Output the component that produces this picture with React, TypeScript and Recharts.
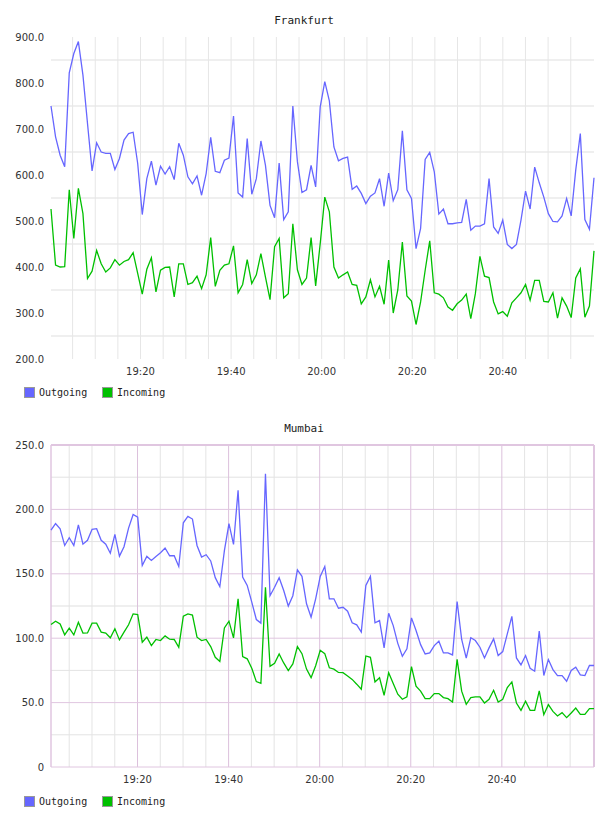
import { LineChart, Line, XAxis, YAxis, ReferenceLine } from 'recharts';

// one sample per minute
const frankfurtOutgoing = [
  750, 683, 643, 618, 822, 864, 890, 817, 712, 609,
  670, 650, 647, 647, 612, 636, 676, 690, 693, 625,
  514, 592, 630, 578, 619, 602, 618, 590, 669, 643,
  596, 581, 598, 556, 603, 682, 608, 605, 632, 637,
  728, 561, 552, 679, 558, 592, 674, 621, 534, 507,
  626, 503, 520, 750, 629, 562, 568, 621, 574, 748,
  803, 761, 661, 631, 636, 639, 569, 576, 560, 538,
  554, 561, 592, 532, 604, 544, 568, 696, 568, 549,
  440, 484, 634, 649, 607, 515, 526, 494, 494, 496,
  497, 547, 480, 489, 489, 494, 592, 487, 473, 502,
  449, 440, 449, 502, 565, 526, 617, 583, 552, 516,
  499, 498, 511, 549, 511, 611, 690, 503, 482, 594,
];

const frankfurtIncoming = [
  526, 404, 400, 401, 568, 462, 571, 516, 375, 391,
  436, 407, 389, 398, 416, 404, 412, 416, 431, 386,
  341, 395, 420, 346, 393, 399, 400, 335, 407, 407,
  362, 366, 380, 353, 383, 464, 358, 393, 404, 407,
  446, 344, 362, 416, 364, 383, 429, 378, 329, 444,
  462, 333, 342, 494, 394, 362, 376, 464, 359, 451,
  552, 520, 400, 376, 383, 389, 362, 360, 320, 335,
  372, 335, 358, 319, 415, 300, 350, 454, 337, 326,
  275, 324, 393, 457, 344, 341, 333, 313, 306, 320,
  328, 341, 288, 342, 423, 380, 377, 324, 298, 303,
  293, 322, 333, 344, 362, 328, 371, 371, 325, 324,
  344, 289, 333, 315, 290, 376, 396, 291, 315, 435,
];

const mumbaiOutgoing = [
  184, 189, 185, 172, 178, 172, 188, 173, 176, 184.5,
  185, 176, 173, 166, 180.6, 163.7, 171, 185.5, 196, 194,
  156.5, 163.5, 160.4, 163.5, 166.3, 170, 164, 164, 155.7, 189.6,
  194.6, 192.5, 172, 163, 164.8, 160, 147, 140, 168, 189,
  172.8, 214.8, 147.4, 141, 128, 114.5, 111.7, 227.7, 133, 139.6,
  146.9, 137, 125, 133, 153, 148, 126.7, 116.3, 130.6, 148,
  155.7, 130.6, 130.6, 123.3, 124, 121, 112, 110.4, 104.7, 141,
  148, 112, 113.7, 92.5, 119.4, 109.8, 96, 86, 91.7, 115.8,
  106, 95, 87.8, 88.6, 94.3, 97.7, 88.6, 88.6, 87, 128.5,
  99, 84.5, 100.3, 98.2, 93, 84.7, 92.5, 99.5, 86.5, 89.6,
  103.4, 117, 84.7, 79.3, 86.5, 76.7, 74.4, 105.5, 71, 83.4,
  75.6, 71, 71, 66.6, 75, 77.5, 71.5, 71, 78.8, 78.8,
];

const mumbaiIncoming = [
  110.6, 113.2, 111, 102.6, 107.8, 102.6, 112.4, 104, 104.1, 111.7,
  111.7, 104.7, 104, 100.3, 107.3, 98.7, 104.7, 110.4, 118.9, 118.4,
  96.9, 100.8, 94.3, 99, 98.2, 101.8, 99.2, 99, 93, 117.1,
  118.9, 118, 100.8, 98.2, 99, 93.5, 85.2, 82, 108, 113.2,
  100.3, 130.6, 85.7, 84, 76.7, 66.3, 65, 139.6, 78.2, 80.6,
  87.8, 80.8, 74.9, 80, 93.5, 88, 76, 69.4, 78.6, 90.6,
  88, 77, 76, 73.4, 73.2, 70.6, 68, 64.3, 60.4, 86.2,
  85.2, 66, 69.3, 55.7, 73.2, 64.8, 56.5, 52.6, 54.4, 77.9,
  62.8, 58.9, 53.1, 53.1, 57, 57, 53.9, 53.1, 50.5, 83.6,
  58.9, 48.7, 53.9, 54.4, 54.4, 49.7, 52.6, 59.6, 50.5, 52.6,
  61.7, 66.1, 49.7, 44, 51, 44, 44, 59.1, 40.6, 48.4,
  43.2, 39.6, 42.2, 38.3, 41.9, 45.8, 40.9, 40.9, 45.3, 45.3,
];

// minutes after 19:00
const timeTicks = [20, 40, 60, 80, 100];
const timeTickLabels = ['19:20', '19:40', '20:00', '20:20', '20:40'];
const fiveMinuteMarks = [
  5, 10, 15, 20, 25, 30, 35, 40, 45, 50, 55, 60,
  65, 70, 75, 80, 85, 90, 95, 100, 105, 110, 115,
];

const frankfurtTicks = [200, 300, 400, 500, 600, 700, 800, 900];
const frankfurtGridValues = [250, 350, 450, 550, 650, 750, 850];
const mumbaiTicks = [0, 50, 100, 150, 200, 250];
const mumbaiMinorValues = [25, 75, 125, 175, 225];

const BLUE = '#6666ff';
const GREEN = '#00c000';
const PINK = '#e0c6e0';

const tickStyle = { fontSize: 10, fontFamily: 'DejaVu Sans', fill: '#333' };

function timeLabel(v: number) {
  const idx = timeTicks.indexOf(v);
  return idx >= 0 ? timeTickLabels[idx] : '';
}

interface PanelProps {
  title: string;
  outgoing: number[];
  incoming: number[];
  start: number;
  step: number;
  yDomain: [number, number];
  yTicks: number[];
  top: number;
  mumbaiStyle?: boolean;
}

function Legend({ top }: { top: number }) {
  const items = [
    { name: 'Outgoing', color: BLUE, left: 24 },
    { name: 'Incoming', color: GREEN, left: 102 },
  ];
  return (
    <>
      {items.map((it) => (
        <div
          key={it.name}
          style={{
            position: 'absolute',
            left: it.left,
            top,
            height: 12,
            display: 'flex',
            alignItems: 'center',
            fontFamily: 'DejaVu Sans Mono',
            fontSize: 10,
            color: '#222',
          }}
        >
          <span
            style={{
              display: 'inline-block',
              width: 11,
              height: 11,
              boxSizing: 'border-box',
              background: it.color,
              border: '1px solid #999',
              marginRight: 4,
            }}
          />
          {it.name}
        </div>
      ))}
    </>
  );
}

function Panel({ title, outgoing, incoming, start, step, yDomain, yTicks, top, mumbaiStyle }: PanelProps) {
  const data = outgoing.map((v, i) => ({
    t: start + i * step,
    outgoing: v,
    incoming: incoming[i],
  }));
  const tFirst = data[0].t;
  const tLast = data[data.length - 1].t;

  return (
    <div style={{ position: 'absolute', left: 0, top, width: 608, height: 410 }}>
      <div
        style={{
          position: 'absolute',
          left: 0,
          width: 608,
          top: mumbaiStyle ? 14 : 14,
          textAlign: 'center',
          fontFamily: 'DejaVu Sans Mono',
          fontSize: 11,
          lineHeight: '13px',
          color: '#222',
        }}
      >
        {title}
      </div>
      <LineChart
        width={608}
        height={385}
        data={data}
        margin={{ top: 37, right: 14, bottom: 2, left: 0 }}
      >
        <XAxis
          type="number"
          dataKey="t"
          domain={['dataMin', 'dataMax']}
          ticks={timeTicks}
          tickFormatter={timeLabel}
          axisLine={false}
          tickLine={false}
          tickSize={0}
          tickMargin={9}
          height={24}
          tick={tickStyle}
        />
        <YAxis
          type="number"
          domain={yDomain}
          ticks={yTicks}
          tickFormatter={(v: number) => (v === 0 ? '0' : v.toFixed(1))}
          axisLine={false}
          tickLine={false}
          tickSize={0}
          tickMargin={7}
          width={51}
          tick={tickStyle}
          allowDataOverflow
        />

        {!mumbaiStyle &&
          frankfurtGridValues.map((v) => (
            <ReferenceLine key={`h${v}`} y={v} stroke="#efefef" strokeWidth={2} />
          ))}
        {!mumbaiStyle &&
          fiveMinuteMarks.map((m) => (
            <ReferenceLine key={`v${m}`} x={m} stroke="#e6e6e6" strokeWidth={1} />
          ))}

        {mumbaiStyle &&
          mumbaiMinorValues.map((v) => (
            <ReferenceLine
              key={`hm${v}`}
              y={v}
              stroke={v === 125 ? '#efefef' : '#e3e3e3'}
              strokeWidth={v === 125 ? 2 : 1}
            />
          ))}
        {mumbaiStyle &&
          fiveMinuteMarks.map((m) => (
            <ReferenceLine
              key={`vm${m}`}
              x={m}
              stroke={m % 20 === 0 ? '#dcc0dc' : '#e4e4e4'}
              strokeWidth={1}
            />
          ))}
        {mumbaiStyle &&
          yTicks.map((v) => (
            <ReferenceLine
              key={`hM${v}`}
              y={v}
              stroke={PINK}
              strokeWidth={v === 250 ? 2 : 1}
            />
          ))}
        {mumbaiStyle && <ReferenceLine x={tFirst} stroke={PINK} strokeWidth={1.5} />}
        {mumbaiStyle && <ReferenceLine x={tLast} stroke={PINK} strokeWidth={2} />}

        <Line
          type="linear"
          dataKey="outgoing"
          stroke={BLUE}
          strokeWidth={1.3}
          dot={false}
          isAnimationActive={false}
        />
        <Line
          type="linear"
          dataKey="incoming"
          stroke={GREEN}
          strokeWidth={1.3}
          dot={false}
          isAnimationActive={false}
        />
      </LineChart>
      <Legend top={mumbaiStyle ? 387 : 386} />
    </div>
  );
}

export default function App() {
  return (
    <div style={{ position: 'absolute', left: 0, top: 0, width: 608, height: 816, background: '#fff' }}>
      <Panel
        title="Frankfurt"
        outgoing={frankfurtOutgoing}
        incoming={frankfurtIncoming}
        start={0.23}
        step={1.0076}
        yDomain={[200, 900]}
        yTicks={frankfurtTicks}
        top={0}
      />
      <Panel
        title="Mumbai"
        outgoing={mumbaiOutgoing}
        incoming={mumbaiIncoming}
        start={1.0}
        step={1.002}
        yDomain={[0, 250]}
        yTicks={mumbaiTicks}
        top={408}
        mumbaiStyle
      />
    </div>
  );
}
